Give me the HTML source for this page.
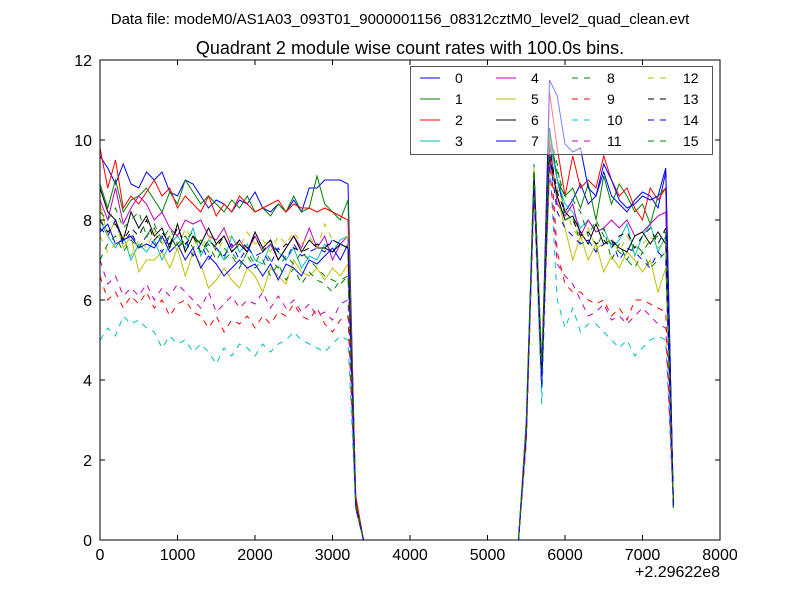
<!DOCTYPE html>
<html><head><meta charset="utf-8"><style>
body{margin:0;background:#fff;}
svg{display:block;font-family:"Liberation Sans","DejaVu Sans",sans-serif;}
</style></head><body>
<svg id="chart" width="800" height="600">
<rect width="800" height="600" fill="#fff"/>
<text x="400" y="24" font-size="15" text-anchor="middle">Data file: modeM0/AS1A03_093T01_9000001156_08312cztM0_level2_quad_clean.evt</text>
<text x="410" y="54" font-size="18" text-anchor="middle">Quadrant 2 module wise count rates with 100.0s bins.</text>
<g id="plot"></g>
</svg>
<script>
const times = [0,100,200,300,400,500,600,700,800,900,1000,1100,1200,1300,1400,1500,1600,1700,1800,1900,2000,2100,2200,2300,2400,2500,2600,2700,2800,2900,3000,3100,3200,3300,3400,3500,3600,3700,3800,3900,4000,4100,4200,4300,4400,4500,4600,4700,4800,4900,5000,5100,5200,5300,5400,5500,5600,5700,5800,5900,6000,6100,6200,6300,6400,6500,6600,6700,6800,6900,7000,7100,7200,7300,7400];
const xTicks = [0,1000,2000,3000,4000,5000,6000,7000,8000];
const yTicks = [0,2,4,6,8,10,12];
const labels = ["0","1","2","3","4","5","6","7","8","9","10","11","12","13","14","15"];
const s0 = [9.6,9.3,8.9,9.4,8.9,8.8,9.2,9.0,9.2,8.7,8.6,9.0,8.9,8.6,8.3,8.5,8.4,8.2,8.5,8.4,8.7,8.3,8.2,8.4,8.2,8.5,8.2,8.8,8.8,9.0,9.0,9.0,8.9,1.0,0,0,0,0,0,0,0,0,0,0,0,0,0,0,0,0,0,0,0,0,0,3.0,9.0,4.0,10.3,9.0,8.2,8.5,8.9,8.4,8.6,9.2,8.6,8.4,8.2,8.5,8.7,8.6,8.3,9.2,0.8];
const s1 = [8.9,8.3,9.0,8.2,8.5,8.6,8.8,8.5,8.2,8.7,8.4,9.0,8.7,8.4,8.6,8.4,8.2,8.5,8.3,8.6,8.2,8.3,8.1,8.4,8.2,8.6,8.2,8.3,9.1,8.4,8.2,8.0,8.5,1.0,0,0,0,0,0,0,0,0,0,0,0,0,0,0,0,0,0,0,0,0,0,2.8,9.2,4.4,10.2,9.0,8.6,8.8,8.3,8.9,8.0,9.1,8.4,8.9,8.6,8.2,8.4,7.9,8.6,8.8,0.8];
const s2 = [9.8,8.8,9.5,8.3,8.6,8.4,8.7,9.0,8.6,8.8,8.3,8.6,8.4,8.2,8.6,8.1,8.4,8.2,8.6,8.4,8.2,8.3,8.4,8.5,8.2,8.4,8.3,8.3,8.2,8.3,8.2,8.1,8.0,1.1,0,0,0,0,0,0,0,0,0,0,0,0,0,0,0,0,0,0,0,0,0,2.6,9.0,4.2,11.2,9.8,8.6,9.6,8.8,9.0,8.8,9.6,9.0,8.6,8.8,8.3,8.0,8.8,8.5,8.8,0.8];
const s3 = [8.0,7.6,7.3,7.6,7.0,7.4,7.2,7.5,7.0,7.4,7.6,7.3,7.8,7.1,7.5,7.3,7.0,7.6,7.2,7.4,7.0,6.9,7.4,7.2,7.0,7.3,6.8,7.1,7.0,7.4,7.2,7.5,7.6,0.9,0,0,0,0,0,0,0,0,0,0,0,0,0,0,0,0,0,0,0,0,0,2.7,9.0,3.8,10.0,9.0,8.4,8.2,7.8,8.0,7.7,7.8,7.3,7.5,7.9,7.1,7.6,7.9,7.2,7.6,0.9];
const s4 = [8.5,8.0,8.8,7.9,8.3,8.6,8.4,8.0,8.2,7.8,7.6,8.0,7.9,8.0,7.6,7.5,7.8,7.3,7.5,7.2,7.6,7.2,7.4,7.0,7.3,7.6,7.3,7.8,7.3,7.6,7.0,7.4,7.6,0.9,0,0,0,0,0,0,0,0,0,0,0,0,0,0,0,0,0,0,0,0,0,2.8,9.1,4.1,10.0,8.4,8.1,8.4,7.6,8.0,7.7,7.8,8.0,7.8,8.0,7.6,7.7,7.9,8.1,8.2,0.8];
const s5 = [8.4,7.6,8.0,7.3,7.6,6.7,7.0,7.0,7.2,6.8,7.3,6.6,7.2,6.9,6.3,6.5,6.8,6.5,6.3,6.8,6.6,6.2,6.8,6.6,6.4,7.0,6.7,6.6,6.8,6.5,6.8,6.6,6.9,0.8,0,0,0,0,0,0,0,0,0,0,0,0,0,0,0,0,0,0,0,0,0,2.9,9.3,4.2,9.0,8.6,7.8,7.0,7.6,7.0,7.4,6.7,7.1,6.8,7.2,7.0,6.7,7.0,6.2,6.8,0.8];
const s6 = [8.8,8.2,8.0,7.5,8.2,7.8,8.1,7.6,7.8,7.3,7.9,7.2,7.6,7.4,7.8,7.4,7.6,7.2,7.4,7.2,7.7,7.3,7.5,7.0,7.3,7.6,7.2,7.5,7.3,7.3,7.2,7.4,7.3,0.9,0,0,0,0,0,0,0,0,0,0,0,0,0,0,0,0,0,0,0,0,0,2.7,9.0,4.0,9.6,8.6,8.0,8.1,7.7,7.4,7.9,7.4,7.5,7.3,7.2,7.6,7.7,7.4,7.7,7.4,0.8];
const s7 = [7.7,7.9,7.4,7.5,7.6,7.3,7.4,7.3,7.6,7.2,7.4,7.0,7.3,6.8,7.1,6.9,6.6,6.8,7.0,6.8,6.9,6.6,6.9,6.5,6.9,6.8,6.6,7.0,6.9,7.1,7.3,7.0,7.4,0.8,0,0,0,0,0,0,0,0,0,0,0,0,0,0,0,0,0,0,0,0,0,2.6,9.1,3.8,11.5,11.1,9.9,9.7,9.8,8.8,8.6,9.4,9.0,8.5,8.3,8.4,8.6,8.5,8.6,9.3,0.8];
const s8 = [8.2,8.0,8.3,7.8,8.0,8.2,7.6,7.9,7.5,7.8,7.4,7.6,7.3,7.5,7.2,7.4,7.0,7.2,6.9,7.1,6.8,7.0,6.6,6.9,6.5,6.8,6.4,6.7,6.5,6.4,6.2,6.5,6.6,0.9,0,0,0,0,0,0,0,0,0,0,0,0,0,0,0,0,0,0,0,0,0,2.8,9.0,4.2,10.2,9.4,8.0,8.1,7.4,7.5,7.2,7.8,7.0,7.4,7.0,6.8,7.2,6.8,7.0,7.2,0.8];
const s9 = [6.6,6.0,6.2,5.8,6.1,5.9,6.2,5.8,6.0,5.6,5.9,6.0,5.7,5.6,5.3,5.6,5.2,5.5,5.4,5.6,5.3,5.6,5.4,5.7,5.6,5.9,5.6,5.5,5.8,5.4,5.2,5.5,5.6,0.8,0,0,0,0,0,0,0,0,0,0,0,0,0,0,0,0,0,0,0,0,0,2.4,8.6,3.9,10.0,7.2,6.4,6.2,6.2,6.0,5.9,6.0,5.6,5.8,5.5,6.0,6.0,5.9,5.8,5.7,0.8];
const s10 = [5.0,5.3,5.1,5.6,5.4,5.5,5.3,5.2,4.8,5.1,4.9,5.0,4.7,4.9,4.7,4.4,4.8,4.6,4.9,4.8,4.6,4.9,4.7,4.9,5.0,5.2,5.0,4.9,4.8,4.7,4.9,5.1,5.0,0.8,0,0,0,0,0,0,0,0,0,0,0,0,0,0,0,0,0,0,0,0,0,2.6,8.8,3.4,9.6,6.0,5.3,5.8,5.2,5.4,5.4,5.2,5.0,4.8,5.0,4.6,4.8,5.0,5.1,5.0,0.8];
const s11 = [7.0,6.4,6.6,6.1,6.3,6.1,6.4,6.0,6.3,6.1,6.4,6.2,6.0,5.8,6.2,5.7,5.9,6.1,5.8,6.0,5.9,6.2,5.8,6.1,5.8,6.0,5.7,5.9,5.6,5.7,5.5,5.9,6.0,0.8,0,0,0,0,0,0,0,0,0,0,0,0,0,0,0,0,0,0,0,0,0,2.5,8.9,4.0,9.4,6.9,6.6,6.4,6.0,5.6,5.7,5.9,5.5,5.6,5.4,5.6,5.8,5.6,5.4,5.3,0.8];
const s12 = [7.6,7.2,7.4,7.6,7.1,7.5,7.3,7.7,7.4,7.6,7.2,7.8,7.5,7.3,7.6,7.2,7.5,7.6,7.3,7.7,7.4,7.5,7.2,7.6,7.4,7.7,7.4,7.6,7.3,7.9,7.5,7.4,7.6,0.9,0,0,0,0,0,0,0,0,0,0,0,0,0,0,0,0,0,0,0,0,0,3.0,9.1,4.3,9.4,8.8,8.3,7.8,7.5,7.8,7.3,7.4,7.5,7.2,7.6,7.3,7.4,7.6,7.3,7.5,0.8];
const s13 = [8.0,7.7,7.9,7.5,7.8,7.6,8.0,7.5,7.7,7.4,7.8,7.4,7.6,7.2,7.5,7.3,7.6,7.2,7.5,7.3,7.6,7.2,7.5,7.2,7.4,7.3,7.2,7.3,7.4,7.3,7.5,7.4,7.3,0.9,0,0,0,0,0,0,0,0,0,0,0,0,0,0,0,0,0,0,0,0,0,2.8,9.2,4.1,9.8,8.7,8.2,8.0,7.6,7.7,7.4,7.5,7.3,7.6,7.7,7.3,7.6,7.8,7.4,7.8,0.8];
const s14 = [7.8,7.6,8.0,7.4,7.7,7.3,7.6,7.4,7.2,7.6,7.3,7.5,7.1,7.4,7.0,7.3,7.1,7.4,7.0,7.3,7.1,7.2,6.9,7.3,7.0,7.4,7.1,7.2,7.3,7.2,7.5,7.4,7.3,0.8,0,0,0,0,0,0,0,0,0,0,0,0,0,0,0,0,0,0,0,0,0,2.7,9.0,3.9,9.6,8.2,7.8,7.6,7.4,7.5,7.2,7.4,7.5,7.0,7.3,7.2,7.0,6.8,7.2,7.0,0.8];
const s15 = [7.0,7.4,7.6,7.2,7.5,7.3,7.6,7.8,7.4,7.6,7.3,7.5,7.7,7.2,7.4,7.0,7.3,7.1,6.8,7.2,6.9,7.3,7.0,6.8,7.1,6.9,7.2,7.0,6.8,6.6,6.5,6.4,6.6,0.9,0,0,0,0,0,0,0,0,0,0,0,0,0,0,0,0,0,0,0,0,0,2.9,9.4,4.5,10.1,9.2,8.6,8.5,8.2,7.6,8.0,7.6,7.4,7.2,7.0,7.4,7.2,7.5,7.6,7.7,0.8];
const series = [s0,s1,s2,s3,s4,s5,s6,s7,s8,s9,s10,s11,s12,s13,s14,s15];
const colors = ["#0000ff","#008000","#ff0000","#00bfbf","#bf00bf","#bfbf00","#000000","#0000ff","#008000","#ff0000","#00bfbf","#bf00bf","#bfbf00","#000000","#0000ff","#008000"];

const L=100,R=720,T=60,B=540,xMax=8000,yMax=12;
const xs=v=>L+(v/xMax)*(R-L);
const ys=v=>B-(v/yMax)*(B-T);
const NS="http://www.w3.org/2000/svg";
const g=document.getElementById('plot');
function mk(tag,attrs,parent){const e=document.createElementNS(NS,tag);for(const k in attrs)e.setAttribute(k,attrs[k]);(parent||g).appendChild(e);return e;}

series.forEach((s,i)=>{
  const d=s.map((v,j)=>(j?'L':'M')+xs(times[j]).toFixed(2)+','+ys(v).toFixed(2)).join('');
  const p=mk('path',{d:d,fill:'none',stroke:colors[i],'stroke-width':1,'stroke-dasharray':i>=8?'6,6':'none'});
  
  
});

const frame=mk('rect',{x:L,y:T,width:R-L,height:B-T,fill:'none',stroke:'#000','stroke-width':1});



xTicks.forEach(v=>{
  const x=xs(v);
  mk('line',{x1:x,y1:B,x2:x,y2:B-5,stroke:'#000'});
  mk('line',{x1:x,y1:T,x2:x,y2:T+5,stroke:'#000'});
  const t=mk('text',{x:x,y:B+20,'font-size':16,'text-anchor':'middle'});
  t.textContent=v;
  
  
});
yTicks.forEach(v=>{
  const y=ys(v);
  mk('line',{x1:L,y1:y,x2:L+5,y2:y,stroke:'#000'});
  mk('line',{x1:R,y1:y,x2:R-5,y2:y,stroke:'#000'});
  const t=mk('text',{x:L-8,y:y+6,'font-size':16,'text-anchor':'end'});
  t.textContent=v;
  
  
});
const off=mk('text',{x:720,y:577,'font-size':16,'text-anchor':'end'});
off.textContent='+2.29622e8';



const lg=mk('g',{});


mk('rect',{x:410.5,y:66.5,width:302,height:88,fill:'#fff','fill-opacity':0.5,stroke:'#555','stroke-width':1},lg);
labels.forEach((lab,i)=>{
  const col=Math.floor(i/4),row=i%4;
  const x0=420+col*76,y0=78+row*21;
  mk('line',{x1:x0,y1:y0,x2:x0+20,y2:y0,stroke:colors[i],'stroke-width':1,'stroke-dasharray':i>=8?'6,6':'none'},lg);
  const t=mk('text',{x:x0+35,y:y0+5,'font-size':14},lg);
  t.textContent=lab;
  
  
});
</script>
</body></html>
